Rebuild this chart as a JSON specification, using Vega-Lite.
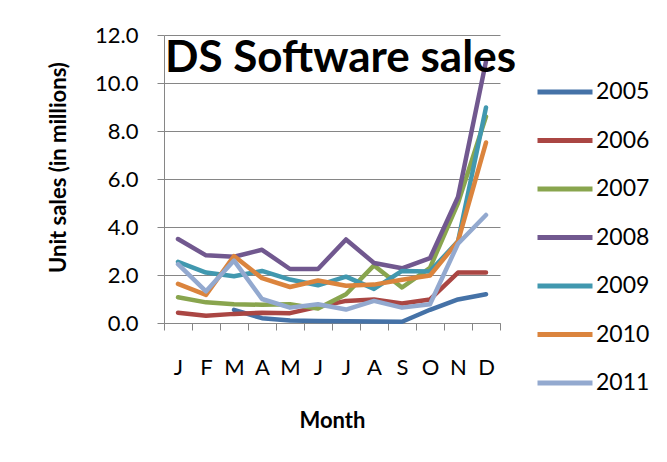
{
  "$schema": "https://vega.github.io/schema/vega-lite/v6.json",
  "autosize": "none",
  "width": 336,
  "height": 288,
  "padding": {"left": 164, "top": 35, "right": 167, "bottom": 139},
  "background": "white",
  "layer": [
    {
      "data": {
        "values": [
          {"m": "Jan", "2005": null, "2006": 0.43, "2007": 1.07, "2008": 3.5, "2009": 2.55, "2010": 1.63, "2011": 2.45},
          {"m": "Feb", "2005": null, "2006": 0.3, "2007": 0.86, "2008": 2.82, "2009": 2.1, "2010": 1.17, "2011": 1.32},
          {"m": "Mar", "2005": 0.55, "2006": 0.38, "2007": 0.78, "2008": 2.76, "2009": 1.95, "2010": 2.79, "2011": 2.6},
          {"m": "Apr", "2005": 0.2, "2006": 0.43, "2007": 0.76, "2008": 3.05, "2009": 2.17, "2010": 1.87, "2011": 1.0},
          {"m": "May", "2005": 0.1, "2006": 0.41, "2007": 0.78, "2008": 2.25, "2009": 1.81, "2010": 1.5, "2011": 0.64},
          {"m": "Jun", "2005": 0.08, "2006": 0.67, "2007": 0.6, "2008": 2.25, "2009": 1.57, "2010": 1.77, "2011": 0.78},
          {"m": "Jul", "2005": 0.07, "2006": 0.92, "2007": 1.2, "2008": 3.48, "2009": 1.93, "2010": 1.55, "2011": 0.56},
          {"m": "Aug", "2005": 0.06, "2006": 0.98, "2007": 2.4, "2008": 2.5, "2009": 1.42, "2010": 1.6, "2011": 0.92},
          {"m": "Sep", "2005": 0.05, "2006": 0.81, "2007": 1.48, "2008": 2.28, "2009": 2.17, "2010": 1.8, "2011": 0.64},
          {"m": "Oct", "2005": 0.55, "2006": 0.98, "2007": 2.3, "2008": 2.7, "2009": 2.15, "2010": 1.98, "2011": 0.78},
          {"m": "Nov", "2005": 0.98, "2006": 2.1, "2007": 5.0, "2008": 5.25, "2009": 3.4, "2010": 3.4, "2011": 3.3},
          {"m": "Dec", "2005": 1.2, "2006": 2.1, "2007": 8.6, "2008": 10.9, "2009": 8.98, "2010": 7.52, "2011": 4.5}
        ]
      },
      "transform": [
        {"fold": ["2005", "2006", "2007", "2008", "2009", "2010", "2011"], "as": ["year", "sales"]}
      ],
      "mark": {"type": "line", "strokeWidth": 4.5, "strokeCap": "round", "strokeJoin": "round"},
      "encoding": {
        "x": {
          "field": "m",
          "type": "ordinal",
          "sort": ["Jan", "Feb", "Mar", "Apr", "May", "Jun", "Jul", "Aug", "Sep", "Oct", "Nov", "Dec"],
          "scale": {"type": "band", "paddingInner": 0, "paddingOuter": 0},
          "axis": {
            "title": "Month",
            "labelExpr": "slice(datum.label, 0, 1)",
            "labelAngle": 0,
            "tickBand": "extent",
            "tickSize": 7,
            "labelPadding": 27,
            "titlePadding": 32,
            "grid": false
          }
        },
        "y": {
          "field": "sales",
          "type": "quantitative",
          "scale": {"domain": [0, 12], "nice": false, "zero": true},
          "axis": {
            "title": "Unit sales (in millions)",
            "values": [0, 2, 4, 6, 8, 10, 12],
            "format": ".1f",
            "tickSize": 7,
            "labelPadding": 19,
            "titlePadding": 24,
            "titleY": 132
          }
        },
        "color": {
          "field": "year",
          "type": "nominal",
          "scale": {
            "domain": ["2005", "2006", "2007", "2008", "2009", "2010", "2011"],
            "range": ["#4572A7", "#AA4643", "#89A54E", "#71588F", "#4198AF", "#DB843D", "#93A9CF"]
          },
          "legend": {
            "title": null,
            "orient": "none",
            "legendX": 371,
            "legendY": 27,
            "symbolType": "stroke",
            "symbolSize": 3025,
            "symbolStrokeWidth": 5,
            "labelFontSize": 23,
            "labelFont": "Lato",
            "labelColor": "black",
            "labelOffset": 1,
            "rowPadding": 6.5
          }
        }
      }
    },
    {
      "data": {"values": [{"t": "DS Software sales"}]},
      "mark": {
        "type": "text",
        "align": "left",
        "baseline": "alphabetic",
        "dx": -13,
        "font": "Lato",
        "fontSize": 44,
        "fontWeight": "bold",
        "color": "black"
      },
      "encoding": {
        "x": {"datum": "Jan", "type": "ordinal"},
        "y": {"datum": 10.46, "type": "quantitative"},
        "text": {"field": "t"}
      }
    }
  ],
  "config": {
    "view": {"stroke": null},
    "axis": {
      "labelFont": "Lato",
      "labelFontSize": 22,
      "labelColor": "black",
      "titleFont": "Lato",
      "titleFontSize": 22,
      "titleFontWeight": "bold",
      "titleColor": "black",
      "domainColor": "#868686",
      "tickColor": "#868686",
      "gridColor": "#868686",
      "gridOpacity": 1,
      "domainWidth": 1,
      "tickWidth": 1,
      "gridWidth": 1
    }
  }
}
